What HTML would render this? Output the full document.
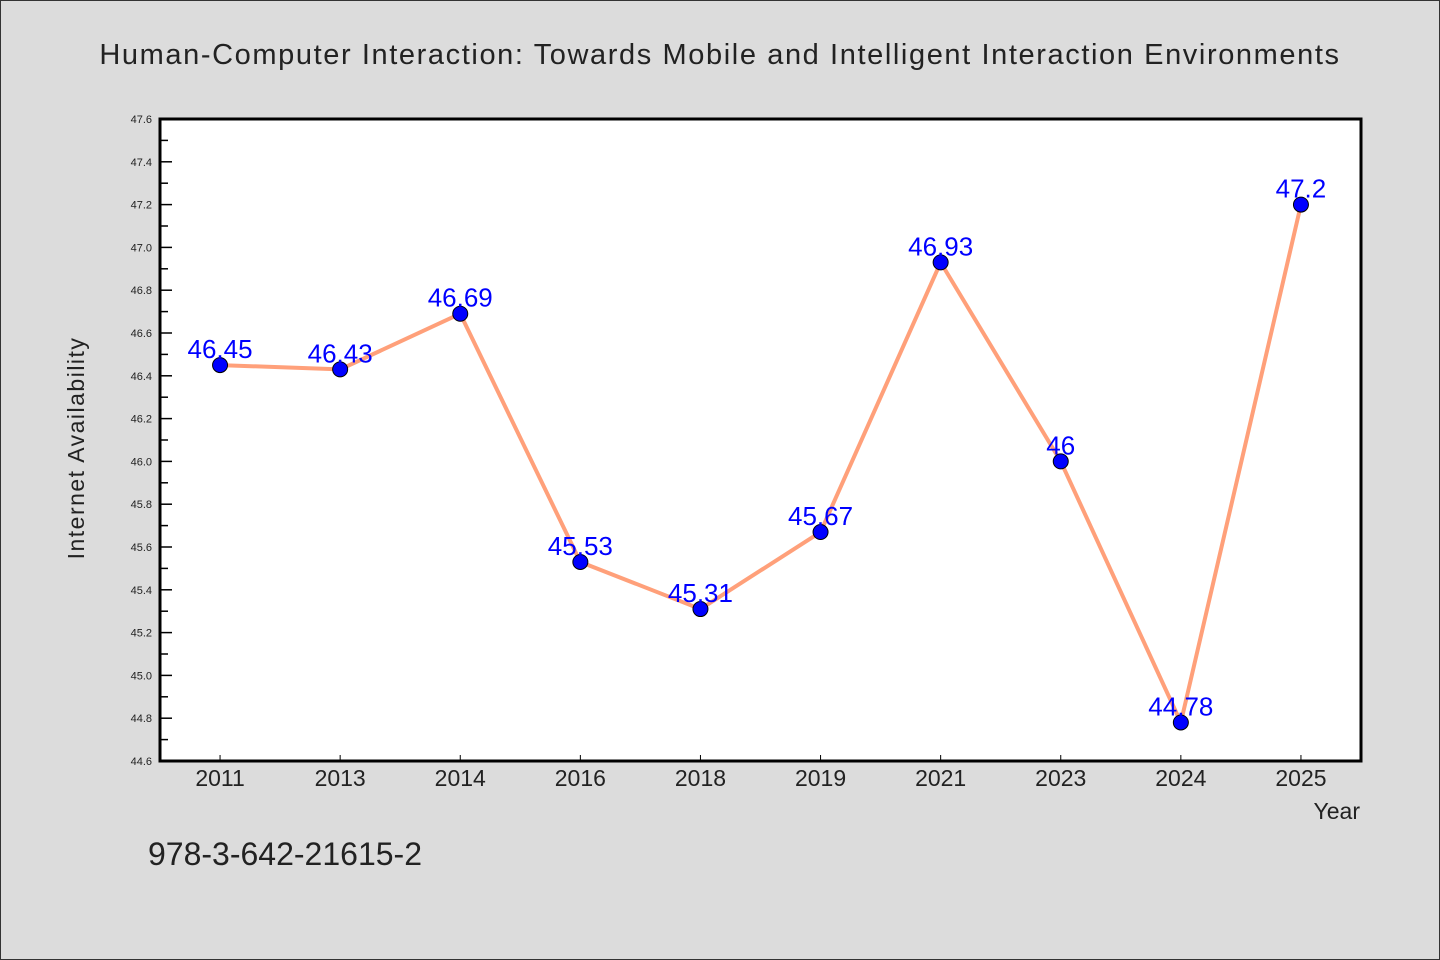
<!DOCTYPE html>
<html><head><meta charset="utf-8"><style>
html,body{margin:0;padding:0;background:#dcdcdc;}
svg{display:block;font-family:"WenQuanYi Zen Hei","Liberation Sans",sans-serif;}
</style></head><body>
<svg id="chart" width="1440" height="960" xmlns="http://www.w3.org/2000/svg">
<rect x="0.5" y="0.5" width="1439" height="959" fill="#dcdcdc" stroke="#333"/>
<text x="720" y="64" text-anchor="middle" font-size="29" fill="#222" letter-spacing="1.6">Human-Computer Interaction: Towards Mobile and Intelligent Interaction Environments</text>
<rect x="160" y="119" width="1201" height="642" fill="#fff"/>
<g id="axes"></g>
<g id="series"></g>
<rect x="160" y="119" width="1201" height="642" fill="none" stroke="#000" stroke-width="3"/>
<text transform="translate(84,448) rotate(-90)" text-anchor="middle" font-size="23" fill="#222" letter-spacing="1.5">Internet Availability</text>
<text x="1360" y="819" text-anchor="end" font-size="23" fill="#222">Year</text>
<text x="148" y="865" font-size="32" fill="#222">978-3-642-21615-2</text>
</svg>
<script>
const categories = ["2011","2013","2014","2016","2018","2019","2021","2023","2024","2025"];
const values = [46.45,46.43,46.69,45.53,45.31,45.67,46.93,46.0,44.78,47.2];
const labels = ["46.45","46.43","46.69","45.53","45.31","45.67","46.93","46","44.78","47.2"];
const yTicks = [44.6,44.8,45.0,45.2,45.4,45.6,45.8,46.0,46.2,46.4,46.6,46.8,47.0,47.2,47.4,47.6];
const NS="http://www.w3.org/2000/svg";
const L=160,R=1361,T=119,B=761,yMin=44.6,yMax=47.6;
const band=(R-L)/categories.length;
function x(i){return L+band*(i+0.5);}
function y(v){return B-(v-yMin)/(yMax-yMin)*(B-T);}
function mk(tag,attrs,parent){const e=document.createElementNS(NS,tag);for(const k in attrs)e.setAttribute(k,attrs[k]);parent.appendChild(e);return e;}
const axes=document.getElementById('axes'),series=document.getElementById('series');
yTicks.forEach((v,i)=>{
  const t=mk('line',{x1:L,x2:L+12,y1:y(v),y2:y(v),stroke:'#000','stroke-width':1.5},axes);
  
  
  const lb=mk('text',{x:L-8,y:y(v)+4,'text-anchor':'end','font-size':11,fill:'#222'},axes);
  lb.textContent=v.toFixed(1);
  
  
  if(i<yTicks.length-1){
    const m=(v+yTicks[i+1])/2;
    const mt=mk('line',{x1:L,x2:L+8,y1:y(m),y2:y(m),stroke:'#000','stroke-width':1.5},axes);
    
    
  }
});
categories.forEach((c,i)=>{
  const t=mk('line',{x1:x(i),x2:x(i),y1:B,y2:B-6,stroke:'#000','stroke-width':1},axes);
  
  
  const lb=mk('text',{x:x(i),y:B+25,'text-anchor':'middle','font-size':23,fill:'#222'},axes);
  lb.textContent=c;
  
  
});
const line=mk('polyline',{points:values.map((v,i)=>x(i)+','+y(v)).join(' '),fill:'none',stroke:'#ffa07a','stroke-width':4,'stroke-linejoin':'round'},series);


values.forEach((v,i)=>{
  const p=mk('circle',{cx:x(i),cy:y(v),r:7.5,fill:'#0000ff',stroke:'#000','stroke-width':1},series);
  
  
  const lb=mk('text',{x:x(i),y:y(v)-7,'text-anchor':'middle','font-size':26,fill:'#0000ff'},series);
  lb.textContent=labels[i];
  
  
});
</script>
</body></html>
